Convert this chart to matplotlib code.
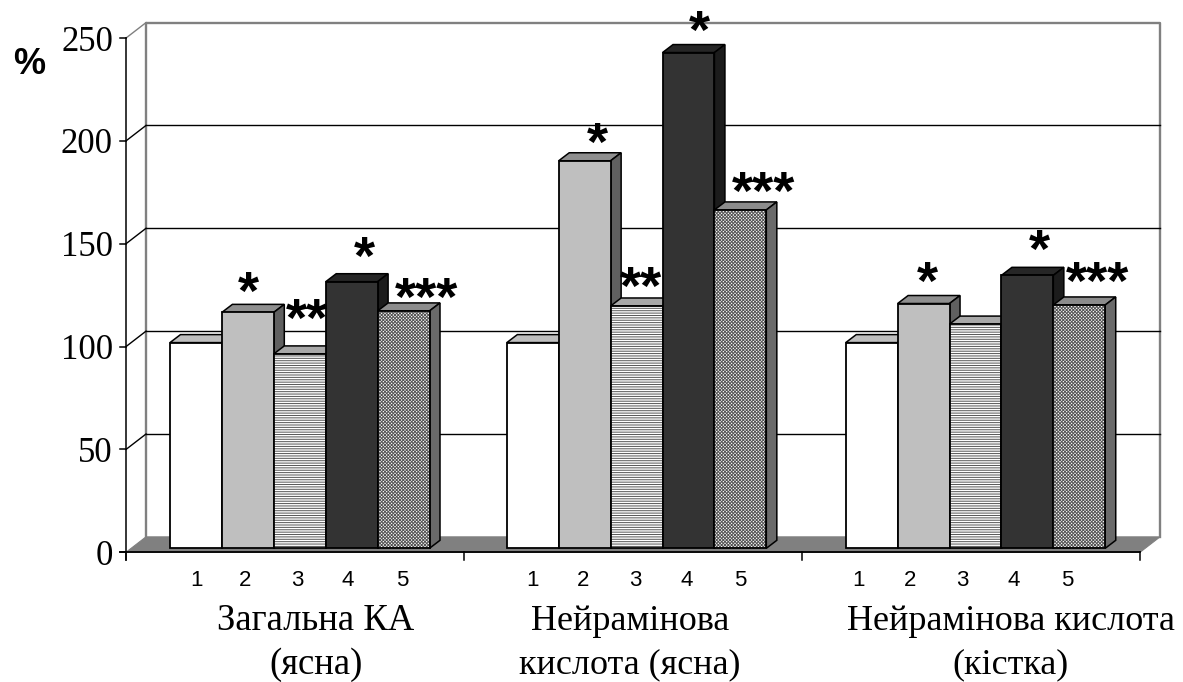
# -*- coding: utf-8 -*-
import matplotlib
matplotlib.use('Agg')
from matplotlib import pyplot as plt
from matplotlib.patches import Polygon

# values
groups = ['Загальна КА\n(ясна)', 'Нейрамінова\nкислота (ясна)', 'Нейрамінова кислота\n(кістка)']
series_1 = [100, 100, 100]
series_2 = [114.7, 188.4, 119]
series_3 = [94.5, 117.8, 109]
series_4 = [129.6, 241, 132.7]
series_5 = [115.4, 164.5, 118.3]
bar_numbers = ['1', '2', '3', '4', '5']
y_ticks = [0, 50, 100, 150, 200, 250]
stars = [['', '*', '**', '*', '***'], ['', '*', '**', '*', '***'], ['', '*', '', '*', '***']]

W, H = 1183, 682
X0, Y0 = 170, 548.3      # pixel of bar 1 left edge / of value 0
SLOT, PX_PER = 51.9, 2.057
GROUP_X = [0, 6.49, 13.02]
DX, DY = 10.5 / SLOT, 8 / PX_PER              # bar depth
WALL_DX = 20 / SLOT                          # back wall, from the front plane
FRONT_X, FRONT_Y = (126 - X0) / SLOT, -1.94  # front corner of the axis
RIGHT_X = (1140 - X0) / SLOT


def px(x):
    return x / W


def py(y):
    return 1 - y / H


plt.rcParams['font.family'] = ['Liberation Serif']
plt.rcParams['hatch.linewidth'] = 0.7

fig = plt.figure(figsize=(W / 100, H / 100), dpi=100)
ax = fig.add_axes([0, 0, 1, 1])
ax.set_xlim(-X0 / SLOT, (W - X0) / SLOT)
ax.set_ylim(-(H - Y0) / PX_PER, Y0 / PX_PER)
ax.axis('off')

# walls and floor
wall_l = FRONT_X + WALL_DX
wall_r = RIGHT_X + WALL_DX
wall_0 = FRONT_Y + 7.5
ax.add_patch(Polygon([(FRONT_X, FRONT_Y), (RIGHT_X, FRONT_Y), (wall_r, wall_0), (wall_l, wall_0)],
                     fc='#808080', ec='#808080', lw=0.8, zorder=1))
ax.plot([wall_l, wall_l, wall_r, wall_r], [wall_0, 250 + FRONT_Y + 7.5, 250 + FRONT_Y + 7.5, wall_0],
        color='#808080', lw=1.7, zorder=1)
for v in y_ticks[1:]:
    c = '#808080' if v == 250 else 'black'
    ax.plot([FRONT_X, wall_l], [v + FRONT_Y, v + FRONT_Y + 7.5], color=c, lw=1.0, zorder=2)
    if v < 250:
        ax.plot([wall_l, wall_r], [v + FRONT_Y + 7.5, v + FRONT_Y + 7.5], color='black', lw=1.0, zorder=2)

# bars, left to right so each one covers the side of the one before
series = [series_1, series_2, series_3, series_4, series_5]
fronts = [('white', None), ('#bfbfbf', None), ('white', '-------'), ('#333333', None), ('white', 'xxxxxxxxxx')]
tops = ['#bfbfbf', '#8f8f8f', '#a8a8a8', '#262626', '#8c8c8c']
sides = ['#606060', '#606060', '#606060', '#1c1c1c', '#6a6a6a']
z = 3
for g, gx in enumerate(GROUP_X):
    for i, vals in enumerate(series):
        left = gx + i
        v = vals[g]
        ax.add_patch(Polygon([(left, v), (left + 1, v), (left + 1 + DX, v + DY), (left + DX, v + DY)],
                             fc=tops[i], ec='black', lw=1.1, zorder=z))
        ax.add_patch(Polygon([(left + 1, 0), (left + 1 + DX, DY), (left + 1 + DX, v + DY), (left + 1, v)],
                             fc=sides[i], ec='black', lw=1.1, zorder=z))
        fc, hatch = fronts[i]
        ax.bar(left, v, width=1, align='edge', color=fc, edgecolor='#555555' if hatch else 'black',
               hatch=hatch, lw=0, zorder=z + 0.1)
        ax.bar(left, v, width=1, align='edge', color='none', edgecolor='black', lw=1.3, zorder=z + 0.2)
        z += 1

# axes
top_z = z + 1
ax.plot([FRONT_X, FRONT_X], [250 + FRONT_Y, FRONT_Y - 3.8], color='black', lw=1.1, zorder=top_z)
ax.plot([FRONT_X - 6 / SLOT, RIGHT_X], [FRONT_Y, FRONT_Y], color='black', lw=1.3, zorder=top_z)
for v in y_ticks:
    ax.plot([FRONT_X - 6 / SLOT, FRONT_X], [v + FRONT_Y, v + FRONT_Y], color='black', lw=1.1, zorder=top_z)
    fig.text(px(113), py(Y0 - (v + FRONT_Y) * PX_PER), str(v), ha='right', va='center_baseline', fontsize=25)
for t in [126, 464, 802, 1140]:
    tx = (t - X0) / SLOT
    ax.plot([tx, tx], [FRONT_Y, FRONT_Y - 3.8], color='black', lw=1.1, zorder=top_z)

# texts
fig.text(px(29), py(65), '%', ha='center', va='center', fontsize=26, fontweight='bold', family='Liberation Sans')

number_x = [[196, 245, 297, 348, 402], [532, 583, 635, 687, 740], [859, 910, 962, 1014, 1067]]
for row in number_x:
    for tx, n in zip(row, bar_numbers):
        fig.text(px(tx), py(581), n, ha='center', va='center', fontsize=16, family='Liberation Sans')

label_x = [316, 630, 1011]
label_size = [26.5, 26, 26]
for tx, g, fs in zip(label_x, groups, label_size):
    l1, l2 = g.split('\n')
    fig.text(px(tx), py(621), l1, ha='center', va='center', fontsize=fs)
    fig.text(px(tx), py(665), l2, ha='center', va='center', fontsize=fs)

star_pos = [[None, (248, 285), (307, 312), (364, 250), (427, 291)],
            [None, (597, 136), (641, 280), (699, 24), (764, 185)],
            [None, (927, 275), None, (1039, 243), (1098, 275)]]
for g, row in enumerate(star_pos):
    for i, p in enumerate(row):
        if p:
            fig.text(px(p[0]), py(p[1] + 10), stars[g][i], ha='center', va='center', fontsize=39,
                     fontweight='bold', family='Liberation Sans', zorder=20)

fig.savefig('out.png', dpi=100, facecolor='white')
